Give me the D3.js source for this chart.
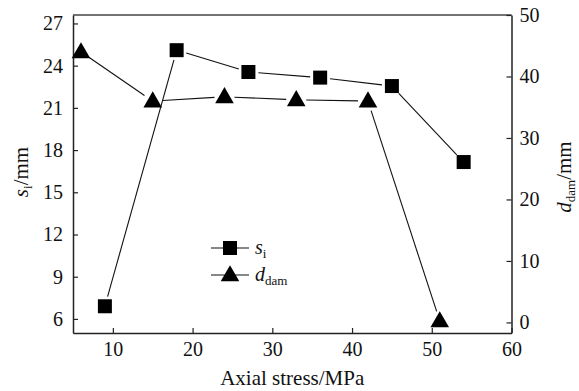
<!DOCTYPE html>
<html>
<head>
<meta charset="utf-8">
<script src="https://cdn.jsdelivr.net/npm/d3@7"></script>
<style>
body { margin: 0; background: #fff; }
svg text { font-family: "Liberation Serif", Tinos, "Times New Roman", Times, "DejaVu Serif", serif !important; fill: #111; }
</style>
</head>
<body>
<div id="chart"></div>
<script>

var stress = [9, 18, 27, 36, 45, 54];
var siValues = [6.9, 25.1, 23.55, 23.15, 22.55, 17.15];
var damStress = [6, 15, 24, 33, 42, 51];
var damValues = [44.0, 36.0, 36.7, 36.2, 36.0, 0.25];
var xTicks = [10, 20, 30, 40, 50, 60];
var leftTicks = [6, 9, 12, 15, 18, 21, 24, 27];
var rightTicks = [0, 10, 20, 30, 40, 50];

var width = 579, height = 391;
var margin = {top: 15, right: 67.5, bottom: 58, left: 73};

var svg = d3.select("#chart").append("svg")
	.attr("width", width)
	.attr("height", height);

var x = d3.scaleLinear().domain([5, 60]).range([margin.left, width - margin.right]);
var yL = d3.scaleLinear().domain([5.0, 27.6]).range([height - margin.bottom, margin.top]);
var yR = d3.scaleLinear().domain([-1.72, 50]).range([height - margin.bottom, margin.top]);

// frame top line
svg.append("line")
	.attr("x1", margin.left).attr("x2", width - margin.right)
	.attr("y1", margin.top).attr("y2", margin.top)
	.attr("stroke", "#444").attr("stroke-width", 1.5);

var xAxis = svg.append("g")
	.attr("transform", "translate(0," + (height - margin.bottom) + ")")
	.call(d3.axisBottom(x).tickValues(xTicks).tickSizeInner(-5).tickSizeOuter(0).tickPadding(9));

var leftAxis = svg.append("g")
	.attr("transform", "translate(" + margin.left + ",0)")
	.call(d3.axisLeft(yL).tickValues(leftTicks).tickSizeInner(-5).tickSizeOuter(0).tickPadding(10));

var rightAxis = svg.append("g")
	.attr("transform", "translate(" + (width - margin.right) + ",0)")
	.call(d3.axisRight(yR).tickValues(rightTicks).tickSizeInner(-5).tickSizeOuter(0).tickPadding(8));

[xAxis, leftAxis, rightAxis].forEach(function(a) {
	a.attr("font-family", null).attr("font-size", null);
	a.selectAll("path").attr("stroke", "#222").attr("stroke-width", 1.5);
	a.selectAll("line").attr("stroke", "#222").attr("stroke-width", 1.2);
	a.selectAll("text").attr("font-size", 20).attr("fill", "#111");
});

// segments with gaps around markers
function drawSeries(xs, ys, yScale, gap) {
	var pts = xs.map(function(d, i) { return [x(d), yScale(ys[i])]; });
	for (var i = 0; i < pts.length - 1; i++) {
		var a = pts[i], b = pts[i + 1];
		var dx = b[0] - a[0], dy = b[1] - a[1];
		var len = Math.sqrt(dx * dx + dy * dy);
		var ux = dx / len, uy = dy / len;
		svg.append("line")
			.attr("x1", a[0] + ux * gap).attr("y1", a[1] + uy * gap)
			.attr("x2", b[0] - ux * gap).attr("y2", b[1] - uy * gap)
			.attr("stroke", "#111").attr("stroke-width", 1.1);
	}
	return pts;
}

var sqSym = d3.symbol().type(d3.symbolSquare).size(14 * 14);
var triSym = d3.symbol().type(d3.symbolTriangle).size(150);

var sqPts = drawSeries(stress, siValues, yL, 10);
var triPts = drawSeries(damStress, damValues, yR, 10);

svg.selectAll(".sq").data(sqPts).enter().append("path")
	.attr("d", sqSym)
	.attr("transform", function(d) { return "translate(" + d[0] + "," + d[1] + ")"; })
	.attr("fill", "#000");

svg.selectAll(".tri").data(triPts).enter().append("path")
	.attr("d", triSym)
	.attr("transform", function(d) { return "translate(" + d[0] + "," + (d[1] + 1) + ")"; })
	.attr("fill", "#000");

// axis titles
svg.append("text")
	.attr("x", (margin.left + width - margin.right) / 2)
	.attr("y", 385)
	.attr("text-anchor", "middle")
	.attr("font-size", 21)
	.text("Axial stress/MPa");

var lt = svg.append("text")
	.attr("transform", "translate(28,172) rotate(-90)")
	.attr("text-anchor", "middle")
	.attr("font-size", 21);
lt.append("tspan").attr("font-style", "italic").text("s");
lt.append("tspan").attr("font-size", 13).attr("dy", 4).text("i");
lt.append("tspan").attr("dy", -4).text("/mm");

var rt = svg.append("text")
	.attr("transform", "translate(571,177) rotate(-90)")
	.attr("text-anchor", "middle")
	.attr("font-size", 21);
rt.append("tspan").attr("font-style", "italic").text("d");
rt.append("tspan").attr("font-size", 13).attr("dy", 4).text("dam");
rt.append("tspan").attr("dy", -4).text("/mm");

// legend
var legend = svg.append("g");
var rows = [{y: 248, sym: sqSym, sub: "i", main: "s"}, {y: 275, sym: triSym, sub: "dam", main: "d"}];
rows.forEach(function(r) {
	legend.append("line")
		.attr("x1", 211).attr("x2", 249)
		.attr("y1", r.y).attr("y2", r.y)
		.attr("stroke", "#111").attr("stroke-width", 1.1);
	legend.append("path")
		.attr("d", r.sym)
		.attr("transform", "translate(230," + (r.main == "d" ? r.y + 1 : r.y) + ")")
		.attr("fill", "#000");
	var t = legend.append("text")
		.attr("x", 255).attr("y", r.y + 6)
		.attr("font-size", 20);
	t.append("tspan").attr("font-style", "italic").text(r.main);
	t.append("tspan").attr("font-size", 13).attr("dy", 4).text(r.sub);
});

</script>
</body>
</html>
